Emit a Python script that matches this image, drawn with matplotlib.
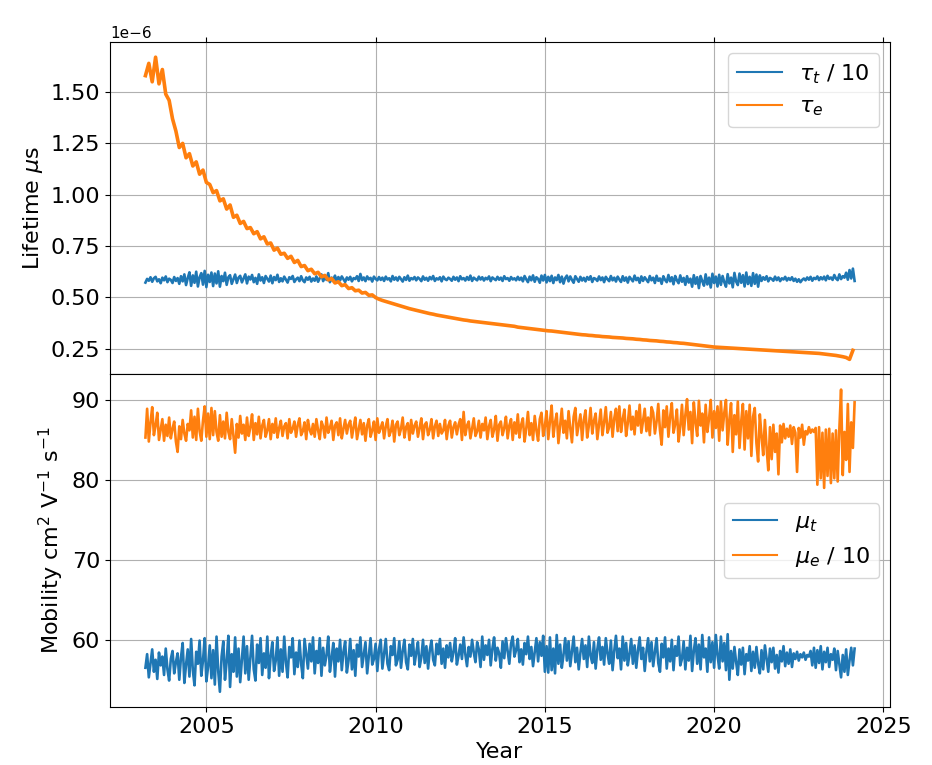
import numpy as np
import matplotlib
matplotlib.use('Agg')
import matplotlib.pyplot as plt

# fine grid for the noisy series: 0.05 yr steps from 2003.20 to 2024.15
start_year = 2003.2
fine_step = 0.05
# tau_e is smooth enough for 0.1 yr steps (2003.2 .. 2024.1)
coarse_step = 0.1

# tau_t / 10 in microseconds
tau_t_div10 = [
    0.572, 0.590, 0.581, 0.598, 0.576, 0.593, 0.600, 0.578, 0.588, 0.569, 0.596, 0.583, 0.602, 0.574, 0.591, 0.585, 0.570, 0.599, 0.580, 0.594,
    0.566, 0.603, 0.578, 0.612, 0.560, 0.594, 0.622, 0.556, 0.607, 0.571, 0.625, 0.553, 0.598, 0.618, 0.562, 0.629, 0.550, 0.610, 0.575, 0.621,
    0.555, 0.616, 0.568, 0.627, 0.552, 0.604, 0.579, 0.620, 0.561, 0.598, 0.608, 0.566, 0.589, 0.611, 0.570, 0.596, 0.605, 0.573, 0.592, 0.612,
    0.568, 0.601, 0.587, 0.609, 0.574, 0.595, 0.566, 0.612, 0.582, 0.598, 0.570, 0.604, 0.590, 0.577, 0.606, 0.569, 0.599, 0.584, 0.610, 0.575,
    0.593, 0.578, 0.601, 0.586, 0.572, 0.598, 0.590, 0.604, 0.575, 0.588, 0.596, 0.579, 0.603, 0.583, 0.574, 0.597, 0.586, 0.600, 0.577, 0.592,
    0.581, 0.602, 0.576, 0.594, 0.612, 0.579, 0.598, 0.585, 0.618, 0.574, 0.596, 0.588, 0.606, 0.577, 0.599, 0.583, 0.602, 0.589, 0.575, 0.597,
    0.586, 0.600, 0.578, 0.594, 0.589, 0.603, 0.580, 0.614, 0.584, 0.597, 0.579, 0.602, 0.588, 0.595, 0.577, 0.601, 0.590, 0.583, 0.599, 0.585,
    0.596, 0.580, 0.601, 0.587, 0.593, 0.578, 0.604, 0.586, 0.597, 0.582, 0.600, 0.589, 0.577, 0.598, 0.585, 0.606, 0.581, 0.594, 0.588, 0.599,
    0.583, 0.597, 0.590, 0.579, 0.602, 0.586, 0.595, 0.581, 0.599, 0.588, 0.604, 0.580, 0.593, 0.587, 0.598, 0.578, 0.601, 0.589, 0.584, 0.596,
    0.590, 0.581, 0.600, 0.586, 0.597, 0.579, 0.603, 0.588, 0.594, 0.582, 0.599, 0.585, 0.606, 0.580, 0.596, 0.589, 0.583, 0.601, 0.587, 0.598,
    0.582, 0.595, 0.588, 0.602, 0.579, 0.597, 0.590, 0.584, 0.600, 0.586, 0.596, 0.580, 0.603, 0.589, 0.594, 0.581, 0.599, 0.587, 0.593, 0.583,
    0.600, 0.585, 0.596, 0.578, 0.604, 0.588, 0.574, 0.601, 0.583, 0.607, 0.576, 0.598, 0.590, 0.571, 0.606, 0.582, 0.609, 0.573, 0.600, 0.579,
    0.605, 0.570, 0.597, 0.584, 0.609, 0.574, 0.601, 0.567, 0.594, 0.606, 0.578, 0.602, 0.585, 0.571, 0.603, 0.589, 0.576, 0.600, 0.582, 0.595,
    0.578, 0.599, 0.586, 0.603, 0.575, 0.594, 0.590, 0.580, 0.602, 0.584, 0.597, 0.574, 0.600, 0.588, 0.579, 0.604, 0.583, 0.596, 0.577, 0.601,
    0.587, 0.575, 0.603, 0.581, 0.597, 0.572, 0.600, 0.589, 0.578, 0.606, 0.584, 0.595, 0.571, 0.602, 0.580, 0.598, 0.586, 0.574, 0.604, 0.583,
    0.596, 0.570, 0.605, 0.581, 0.592, 0.566, 0.603, 0.585, 0.574, 0.609, 0.578, 0.598, 0.564, 0.604, 0.583, 0.569, 0.607, 0.576, 0.595, 0.561,
    0.603, 0.572, 0.591, 0.552, 0.608, 0.566, 0.598, 0.545, 0.604, 0.579, 0.557, 0.612, 0.563, 0.596, 0.548, 0.615, 0.570, 0.601, 0.553, 0.610,
    0.561, 0.604, 0.574, 0.552, 0.613, 0.568, 0.596, 0.549, 0.619, 0.577, 0.560, 0.616, 0.571, 0.608, 0.553, 0.621, 0.565, 0.600, 0.556, 0.618,
    0.566, 0.611, 0.552, 0.607, 0.580, 0.598, 0.586, 0.603, 0.578, 0.595, 0.590, 0.581, 0.601, 0.584, 0.597, 0.579, 0.593, 0.587, 0.600, 0.582,
    0.594, 0.585, 0.598, 0.580, 0.591, 0.576, 0.588, 0.574, 0.585, 0.592, 0.583, 0.597, 0.586, 0.600, 0.581, 0.595, 0.589, 0.602, 0.584, 0.598,
    0.588, 0.601, 0.583, 0.605, 0.590, 0.597, 0.585, 0.609, 0.592, 0.584, 0.612, 0.589, 0.603, 0.596, 0.620, 0.586, 0.633, 0.592, 0.640, 0.580,
]

# tau_e in microseconds (0.1 yr steps)
tau_e = [
    1.58, 1.64, 1.55, 1.67, 1.54, 1.61, 1.49, 1.46, 1.37, 1.31,
    1.23, 1.25, 1.18, 1.20, 1.14, 1.16, 1.10, 1.12, 1.06, 1.05,
    1.01, 1.02, 0.97, 0.98, 0.93, 0.95, 0.89, 0.90, 0.86, 0.87,
    0.835, 0.84, 0.81, 0.82, 0.785, 0.795, 0.76, 0.765, 0.73, 0.74,
    0.71, 0.715, 0.69, 0.70, 0.67, 0.68, 0.65, 0.655, 0.63, 0.637,
    0.615, 0.622, 0.600, 0.607, 0.585, 0.592, 0.570, 0.576, 0.557, 0.562,
    0.543, 0.547, 0.532, 0.535, 0.521, 0.524, 0.510, 0.512, 0.499, 0.491,
    0.485, 0.480, 0.475, 0.470, 0.465, 0.460, 0.455, 0.450, 0.445, 0.441,
    0.437, 0.433, 0.429, 0.425, 0.421, 0.418, 0.414, 0.411, 0.408, 0.405,
    0.402, 0.399, 0.396, 0.393, 0.390, 0.388, 0.385, 0.383, 0.381, 0.379,
    0.377, 0.375, 0.373, 0.371, 0.369, 0.367, 0.365, 0.363, 0.361, 0.359,
    0.355, 0.353, 0.351, 0.349, 0.347, 0.345, 0.343, 0.341, 0.339, 0.337,
    0.336, 0.334, 0.332, 0.330, 0.328, 0.326, 0.324, 0.322, 0.320, 0.318,
    0.317, 0.315, 0.314, 0.312, 0.311, 0.309, 0.308, 0.307, 0.305, 0.304,
    0.303, 0.302, 0.300, 0.299, 0.298, 0.296, 0.295, 0.293, 0.292, 0.290,
    0.289, 0.288, 0.286, 0.285, 0.283, 0.282, 0.280, 0.279, 0.277, 0.276,
    0.274, 0.272, 0.270, 0.268, 0.266, 0.264, 0.262, 0.260, 0.258, 0.257,
    0.256, 0.255, 0.254, 0.253, 0.252, 0.251, 0.250, 0.249, 0.248, 0.247,
    0.246, 0.245, 0.244, 0.243, 0.242, 0.241, 0.240, 0.239, 0.238, 0.237,
    0.236, 0.235, 0.234, 0.233, 0.232, 0.231, 0.230, 0.229, 0.228, 0.227,
    0.225, 0.223, 0.221, 0.219, 0.217, 0.214, 0.211, 0.207, 0.198, 0.242,
]

# mu_t, cm^2 V^-1 s^-1
mu_t = [
    56.5, 58.2, 55.3, 57.1, 58.8, 56.0, 57.5, 55.1, 58.4, 56.8, 57.9, 55.6, 58.9, 56.3, 54.9, 57.6, 58.6, 55.8, 57.2, 58.3,
    55.0, 57.8, 59.6, 54.6, 56.9, 58.8, 55.4, 60.1, 56.2, 54.3, 58.5, 57.0, 59.9, 55.5, 57.4, 60.2, 54.8, 56.6, 59.3, 55.2,
    58.7, 54.4, 60.4, 56.1, 53.5, 57.9, 59.8, 55.0, 57.3, 60.5, 54.1, 58.2, 56.0, 60.3, 55.4, 58.9, 54.7, 57.6, 60.4, 55.8,
    59.2, 55.0, 57.7, 60.5, 56.3, 54.9, 59.4, 57.1, 60.2, 55.6, 58.3, 56.5, 60.4, 55.2, 58.0, 59.7, 56.1, 57.4, 60.3, 55.5,
    58.8, 56.0, 60.4, 57.2, 55.3, 59.1, 57.8, 60.2, 55.7, 58.4, 56.6, 59.9, 57.0, 55.2, 60.1, 58.2, 56.4, 59.5, 57.3, 60.3,
    55.8, 58.6, 57.1, 60.2, 55.5, 59.0, 56.8, 58.1, 60.4, 56.0, 57.7, 59.6, 55.4, 58.9, 57.3, 60.0, 56.2, 58.5, 59.8, 55.9,
    57.4, 60.1, 56.3, 58.7, 55.5, 59.4, 57.9, 60.3, 56.6, 58.2, 59.7, 55.8, 58.0, 60.2, 56.9, 57.6, 59.5, 56.1, 58.8, 60.0,
    56.4, 58.3, 60.1, 57.0, 56.2, 59.2, 58.1, 60.2, 56.8, 57.5, 59.8, 56.5, 58.6, 60.0, 57.2, 56.3, 59.4, 58.0, 60.1, 56.9,
    58.4, 59.7, 56.6, 57.8, 60.0, 57.1, 59.2, 56.4, 58.7, 59.9, 57.5, 56.8, 59.5, 58.2, 60.1, 57.0, 58.9, 56.5, 59.3, 57.8,
    59.6, 57.3, 58.5, 60.2, 56.9, 58.0, 59.4, 57.6, 60.3, 58.2, 56.7, 59.1, 57.9, 60.0, 58.4, 57.2, 59.7, 58.8, 56.6, 60.4,
    57.5, 59.3, 58.1, 60.0, 56.8, 58.9, 60.3, 57.4, 59.0, 58.3, 56.5, 59.8, 57.7, 60.2, 58.6, 57.0, 59.5, 60.4, 57.9, 58.7,
    60.1, 57.2, 58.8, 56.9, 59.6, 58.2, 60.4, 57.6, 59.1, 56.7, 58.5, 60.2, 57.3, 59.7, 58.0, 60.5, 56.0, 59.2, 55.9, 60.3,
    56.2, 58.9, 55.8, 60.6, 57.0, 59.4, 56.5, 58.1, 60.2, 57.4, 59.8, 56.7, 58.6, 60.4, 57.2, 59.0, 56.3, 58.4, 60.1, 57.6,
    59.3, 56.6, 60.4, 58.0, 57.1, 59.7, 56.4, 58.8, 60.3, 57.5, 59.1, 56.9, 60.2, 58.3, 57.0, 59.9, 56.2, 58.6, 60.5, 57.7,
    58.9, 56.3, 60.4, 57.4, 59.6, 56.8, 58.2, 60.1, 57.0, 59.3, 56.5, 58.7, 60.3, 57.6, 59.0, 56.1, 58.5, 60.2, 57.3, 59.7,
    56.7, 58.4, 60.2, 57.1, 56.0, 59.5, 57.8, 60.3, 56.4, 58.9, 57.3, 60.0, 56.2, 59.2, 58.0, 60.4, 56.8, 57.6, 59.8, 56.3,
    59.0, 57.4, 60.5, 56.1, 58.6, 60.2, 57.0, 59.4, 56.3, 60.6, 57.8, 58.9, 56.0, 60.3, 57.2, 59.7, 56.5, 60.6, 58.1, 56.4,
    60.4, 57.3, 59.6, 56.2, 60.7, 55.0, 58.6, 56.4, 59.1, 57.2, 55.6, 58.8, 56.9, 59.0, 55.7, 58.2, 57.4, 59.2, 56.1, 58.5,
    56.5, 59.1, 57.0, 55.8, 58.7, 56.3, 59.3, 57.6, 56.0, 58.9, 57.2, 59.0, 56.4, 58.1, 55.9, 58.6, 57.3, 59.2, 56.7, 58.4,
    57.0, 58.8, 56.6, 58.3, 57.6, 58.5, 57.4, 58.2, 57.8, 58.4, 57.5, 58.1, 57.9, 58.6, 56.8, 59.0, 56.5, 58.7, 57.1, 59.2,
    56.3, 58.5, 57.2, 59.0, 56.6, 58.2, 57.5, 58.9, 56.2, 58.6, 57.0, 55.3, 58.1, 56.0, 58.8, 55.6, 57.4, 59.0, 56.8, 58.9,
]

# mu_e / 10, cm^2 V^-1 s^-1
mu_e_div10 = [
    85.3, 88.9, 84.8, 87.2, 89.1, 85.6, 86.8, 88.4, 85.0, 86.3, 87.6, 84.9, 86.9, 85.5, 87.8, 85.2, 86.4, 87.3, 84.8, 83.5,
    86.7, 85.1, 87.5, 85.8, 84.9, 87.0, 86.2, 88.7, 85.3, 87.9, 85.0, 88.9, 86.1, 84.9, 87.4, 89.2, 85.4, 88.3, 85.1, 89.0,
    85.6, 88.6, 86.0, 84.9, 88.1, 85.4, 87.3, 85.2, 88.4, 86.0, 85.1, 87.6, 85.5, 83.4, 87.0, 85.3, 88.0, 85.8, 86.9, 85.0,
    87.8, 85.5, 86.6, 88.2, 85.0, 87.1, 85.7, 87.9, 85.2, 86.8, 87.5, 85.4, 86.2, 87.6, 85.1, 87.0, 85.9, 87.7, 85.3, 86.5,
    87.4, 85.5, 86.7, 87.1, 85.2, 87.6, 85.9, 86.4, 87.3, 85.4, 86.9, 87.7, 85.6, 86.1, 87.2, 85.1, 87.5, 86.3, 85.7, 87.0,
    85.4, 87.6, 86.2, 85.1, 87.3, 86.7, 85.3, 87.8, 85.9, 86.5, 87.4, 85.0, 86.8, 87.2, 85.6, 87.7, 85.2, 86.4, 87.5, 85.8,
    86.9, 87.4, 85.3, 86.6, 87.8, 85.1, 86.3, 87.5, 85.7, 87.1, 84.9, 86.8, 87.6, 85.4, 86.2, 87.3, 85.0, 87.7, 85.9, 86.5,
    87.2, 85.2, 86.7, 87.6, 85.5, 86.1, 87.4, 84.8, 86.9, 87.3, 85.6, 86.4, 87.8, 85.3, 86.6, 87.1, 85.0, 87.5, 85.8, 86.8,
    87.3, 85.4, 86.5, 87.7, 85.1, 86.9, 87.2, 85.6, 86.3, 87.6, 85.2, 86.7, 87.4, 85.5, 87.0, 85.8, 86.2, 87.5, 85.1, 86.8,
    87.4, 85.3, 86.6, 87.2, 85.7, 86.9, 87.6, 85.0, 88.5, 85.6, 86.8, 87.3, 85.2, 86.4, 87.7, 85.5, 86.1, 87.4, 85.3, 87.0,
    86.2, 87.8, 85.1, 86.7, 87.5, 85.4, 86.3, 88.0, 84.9, 86.9, 87.3, 85.6, 86.5, 87.9, 85.2, 86.8, 87.6, 85.0, 87.2, 85.8,
    88.2, 85.3, 86.9, 87.7, 84.8, 86.4, 88.5, 85.6, 87.1, 85.0, 88.0, 86.2, 84.9, 87.6, 88.4, 85.5, 86.7, 88.6, 85.1, 87.3,
    89.3, 85.4, 87.2, 88.3, 84.6, 86.8, 88.9, 85.9, 87.4, 85.2, 88.6, 86.5, 84.7, 87.9, 89.0, 85.6, 86.9, 88.2, 85.0, 87.5,
    88.7, 85.3, 86.8, 89.0, 85.8, 87.4, 88.3, 85.1, 86.9, 88.8, 85.6, 87.2, 89.1, 85.9, 86.6, 88.5, 85.4, 87.7, 88.9, 86.1,
    89.2, 86.0, 87.6, 88.8, 85.5, 87.1, 89.3, 86.3, 87.9, 85.7, 88.6, 86.8, 89.4, 85.9, 87.4, 88.9, 86.1, 87.8, 85.6, 89.1,
    88.4, 85.8, 87.3, 89.5, 86.2, 84.4, 88.7, 86.6, 89.2, 85.4, 87.9, 89.6, 85.9, 87.0, 88.8, 84.8, 86.7, 89.4, 85.6, 88.1,
    90.1, 86.3, 88.5, 84.6, 89.7, 87.2, 85.5, 89.9, 86.8, 88.3, 84.7, 89.4, 86.0, 87.7, 90.0, 85.3, 88.6, 86.5, 89.2, 84.9,
    89.8, 86.2, 88.4, 90.0, 84.4, 87.5, 89.6, 83.5, 88.1, 85.7, 89.8, 84.0, 87.3, 89.5, 83.8, 88.6, 85.2, 89.4, 83.0, 87.9,
    89.0, 84.6, 82.3, 88.2, 85.5, 83.1, 87.5, 84.0, 81.2, 86.6, 82.6, 86.9, 83.5, 85.8, 80.7, 86.8, 84.7, 87.0, 85.2, 86.4,
    85.4, 86.8, 84.5, 86.6, 85.9, 81.0, 86.5, 85.3, 86.9, 84.4, 86.1, 85.7, 86.6, 85.9, 86.3, 86.0, 86.5, 79.4, 86.6, 80.2,
    85.9, 79.0, 86.3, 80.5, 86.4, 79.6, 85.8, 80.2, 86.2, 79.8, 86.4, 91.3, 80.6, 86.0, 82.5, 89.5, 81.0, 87.2, 84.0, 89.7,
]

years_fine = start_year + fine_step * np.arange(len(mu_t))
years_coarse = start_year + coarse_step * np.arange(len(tau_e))

fs = 16
fig, (ax1, ax2) = plt.subplots(2, 1, figsize=(9.32, 7.65), dpi=100, sharex=True)
fig.subplots_adjust(left=0.118, right=0.955, top=0.945, bottom=0.076, hspace=0)

# slightly heavier lines stand in for the daily scatter of the original data
ax1.plot(years_fine, np.array(tau_t_div10) * 1e-6, lw=1.9, label=r'$\tau_t$ / 10')
ax1.plot(years_coarse, np.array(tau_e) * 1e-6, lw=2.6, label=r'$\tau_e$')
ax1.set_ylabel(r'Lifetime $\mu$s', fontsize=fs)
ax1.xaxis.tick_top()
ax1.tick_params(labelsize=fs)
ax1.yaxis.get_offset_text().set_fontsize(11)
ax1.grid(True)
leg1 = ax1.legend(fontsize=fs, loc='upper right')

ax2.plot(years_fine, mu_t, lw=1.9, label=r'$\mu_t$')
ax2.plot(years_fine, mu_e_div10, lw=1.9, label=r'$\mu_e$ / 10')
ax2.set_ylabel(r'Mobility cm$^2$ V$^{-1}$ s$^{-1}$', fontsize=fs)
ax2.set_xlabel('Year', fontsize=fs)
ax2.tick_params(labelsize=fs)
ax2.grid(True)
leg2 = ax2.legend(fontsize=fs, loc='center right')

for leg in (leg1, leg2):
    for line in leg.get_lines():
        line.set_linewidth(1.5)

fig.savefig('out.png')
